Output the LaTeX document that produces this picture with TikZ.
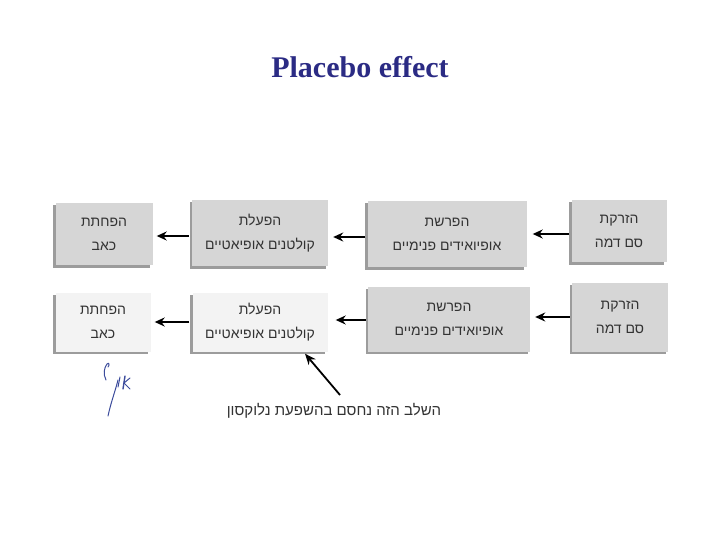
\documentclass[tikz,border=0pt]{standalone}
\usepackage{fontspec}
\setmainfont{Liberation Serif}
\newfontfamily\heb[Script=Hebrew]{Liberation Sans}
\TeXXeTstate=1
\usetikzlibrary{arrows.meta,shadows}
\newcommand{\HebT}[1]{\beginR #1\endR}
\definecolor{titleblue}{HTML}{2B2B84}
\definecolor{boxgray}{HTML}{D6D6D6}
\definecolor{boxlight}{HTML}{F3F3F3}
\definecolor{shade}{HTML}{9C9C9C}
\definecolor{inkblue}{HTML}{3C4C9C}
\tikzset{
  box/.style={fill=boxgray, inner sep=0pt, align=center, text=black!80,
    font=\heb\fontsize{14}{24}\selectfont,
    drop shadow={shadow xshift=-2.5pt, shadow yshift=-2.5pt, fill=shade, opacity=1}},
  lightbox/.style={box, fill=boxlight},
  arr/.style={line width=2pt, -{Stealth[length=10pt,width=9pt]}},
  ptr/.style={line width=1.8pt, -{Stealth[length=11pt,width=9pt]}},
  ink/.style={inkblue, line width=1pt, line cap=round}
}
\begin{document}
\begin{tikzpicture}[x=1pt,y=-1pt]
\useasboundingbox (0,0) rectangle (720,540);
\node[font=\bfseries\fontsize{30}{32}\selectfont, text=titleblue] (title) at (360,67) {Placebo effect};
% row 1
\node[box, minimum width=97, minimum height=62] (a1) at (104,234) {\HebT{הפחתת}\\\HebT{כאב}};
\node[box, minimum width=136, minimum height=66] (b1) at (260,233) {\HebT{הפעלת}\\\HebT{קולטנים אופיאטיים}};
\node[box, minimum width=159, minimum height=66] (c1) at (447,234) {\HebT{הפרשת}\\\HebT{אופיואידים פנימיים}};
\node[box, minimum width=95, minimum height=62] (d1) at (619,231) {\HebT{הזרקת}\\\HebT{סם דמה}};
% row 2
\node[lightbox, minimum width=95, minimum height=59] (a2) at (103,322) {\HebT{הפחתת}\\\HebT{כאב}};
\node[lightbox, minimum width=135, minimum height=59] (b2) at (260,322) {\HebT{הפעלת}\\\HebT{קולטנים אופיאטיים}};
\node[box, minimum width=162, minimum height=65] (c2) at (449,319) {\HebT{הפרשת}\\\HebT{אופיואידים פנימיים}};
\node[box, minimum width=96, minimum height=69] (d2) at (620,317) {\HebT{הזרקת}\\\HebT{סם דמה}};
% arrows row 1
\draw[arr] ([yshift=-3]b1.west) ++(-3,0) -- ([yshift=-3,xshift=4]b1.west -| a1.east);
\draw[arr] ([yshift=-3]c1.west) ++(-2,0) -- ([yshift=-3,xshift=5]c1.west -| b1.east);
\draw[arr] ([yshift=-3]d1.west) ++(-2,0) -- ([yshift=-3,xshift=6]d1.west -| c1.east);
% arrows row 2
\draw[arr] (b2.west) ++(-3,0) -- ([xshift=4]b2.west -| a2.east);
\draw[arr] ([yshift=-1]c2.west) ++(-2,0) -- ([yshift=-1,xshift=8]c2.west -| b2.east);
\draw[arr] (d2.west) ++(-2,0) -- ([xshift=5]d2.west -| c2.east);
% note
\node[font=\heb\fontsize{15}{17}\selectfont, text=black!80] (note) at (334,411) {\HebT{השלב הזה נחסם בהשפעת נלוקסון}};
\coordinate (ptail) at (340,395);
\draw[ptr] (ptail) -- ([xshift=45, yshift=-2]b2.south);
% handwriting
\draw[ink] (108,416) .. controls (111,402) and (115,392) .. (118,380);
\draw[ink] (106,380) .. controls (103,374) and (104,368) .. (107,364) .. controls (109,362) and (110,365) .. (108,367);
\draw[ink] (120,377) -- (118,387);
\draw[ink, line width=1.4pt] (125,376) -- (123,389);
\draw[ink] (124,383) -- (130,378);
\draw[ink] (124,383) -- (130,389);
\end{tikzpicture}
\end{document}
